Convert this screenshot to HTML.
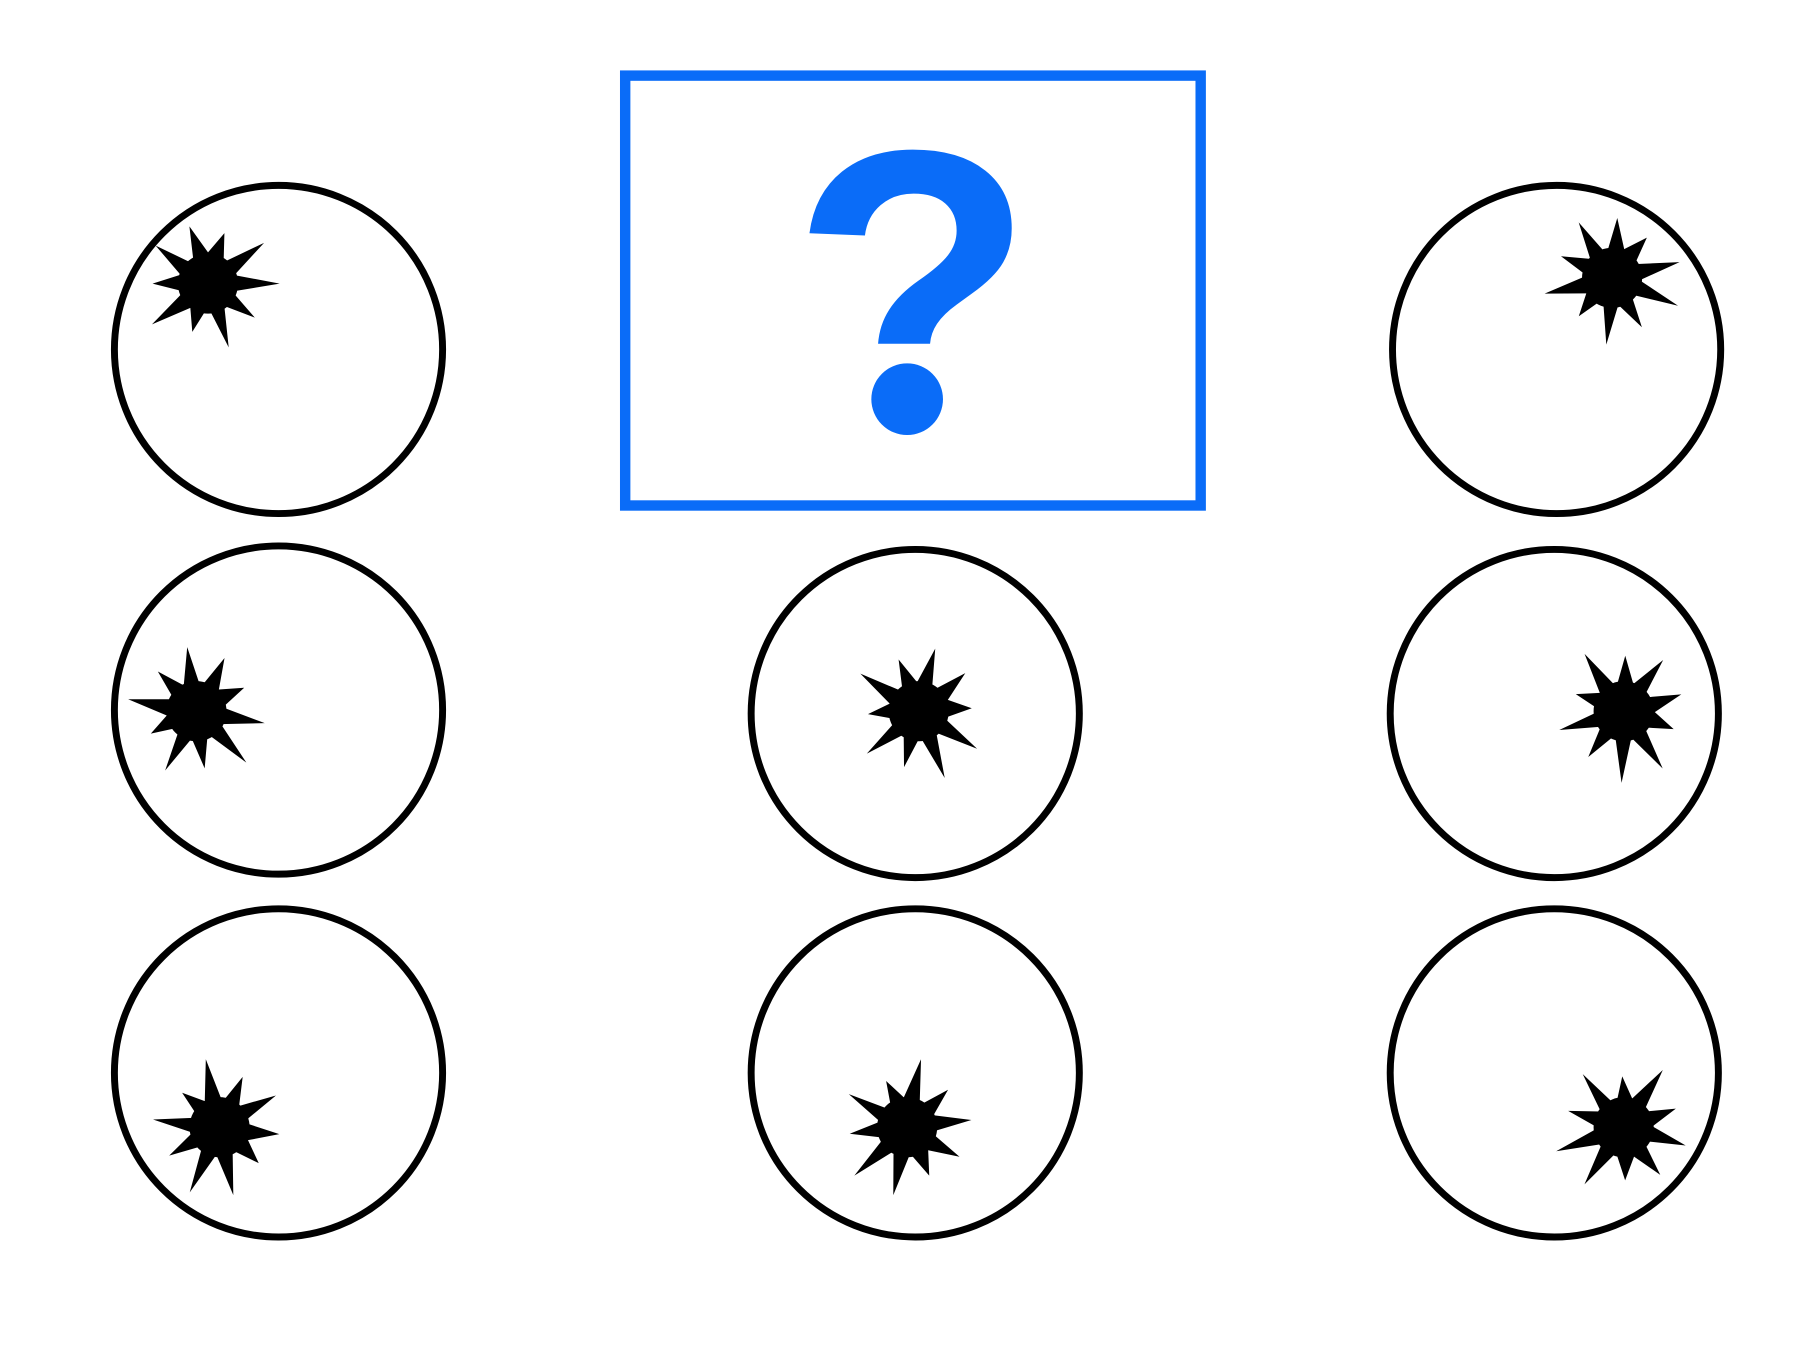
<!DOCTYPE html>
<html><head><meta charset="utf-8"><style>
html,body{margin:0;padding:0;background:#fff;}
svg{display:block;}
</style></head><body>
<svg id="root" width="1812" height="1360" viewBox="0 0 1568 1176" xmlns="http://www.w3.org/2000/svg">
<rect x="0" y="0" width="1568" height="1176" fill="#fff"/>
<g>
<rect x="541" y="65" width="498" height="372" fill="none" stroke="#0a6cf8" stroke-width="9"/>
<clipPath id="qclip"><rect x="600" y="100" width="400" height="197"/></clipPath>
<text x="790" y="370" text-anchor="middle" clip-path="url(#qclip)" font-family="Liberation Sans, sans-serif" font-weight="bold" font-size="345" fill="#0a6cf8">?</text>
<circle cx="785" cy="345" r="31" fill="#0a6cf8"/>
</g>
<g id="tiles"></g>
</svg>
<script>
const circles=[[241,302],[1347,302],[241,614],[792,617],[1345,617],[241,928],[792,928],[1345,928]];
const splats=[[180,245],[1395,240],[170,615],[795,615],[1405,615],[190,975],[785,975],[1405,975]];
const radii=[62,22,50,24,58,20,44,26,60,22,48,25,56,21,52,27,46,23,60,24];
function starPath(cx,cy,rot){
  let d='';
  const n=radii.length;
  for(let i=0;i<n;i++){
    const a=rot+i*2*Math.PI/n;
    const r=radii[i];
    const x=cx+r*Math.cos(a), y=cy+r*Math.sin(a);
    d+=(i?'L':'M')+x.toFixed(1)+' '+y.toFixed(1);
  }
  return d+'Z';
}
const ns='http://www.w3.org/2000/svg';
const g=document.getElementById('tiles');
circles.forEach((c,i)=>{
  const grp=document.createElementNS(ns,'g');
  
  
  const ci=document.createElementNS(ns,'circle');
  ci.setAttribute('cx',c[0]);ci.setAttribute('cy',c[1]);ci.setAttribute('r',142);
  ci.setAttribute('fill','#fff');ci.setAttribute('stroke','#000');ci.setAttribute('stroke-width',6);
  
  
  grp.appendChild(ci);
  const p=document.createElementNS(ns,'path');
  p.setAttribute('d',starPath(splats[i][0],splats[i][1],i*0.4));
  p.setAttribute('fill','#000');
  
  
  grp.appendChild(p);
  const core=document.createElementNS(ns,'circle');
  core.setAttribute('cx',splats[i][0]);core.setAttribute('cy',splats[i][1]);core.setAttribute('r',26);
  core.setAttribute('fill','#000');
  
  
  grp.appendChild(core);
  g.appendChild(grp);
});
</script>
</body></html>
